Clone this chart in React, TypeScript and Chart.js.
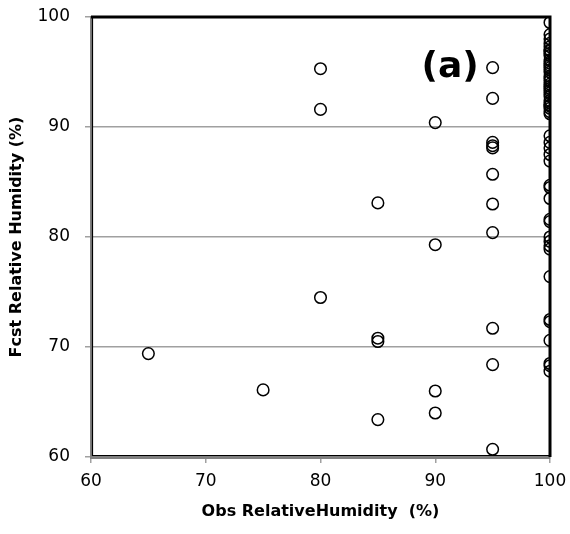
import React, { useEffect, useRef } from "react";
import { Chart, registerables } from "chart.js";

Chart.register(...registerables);

const obsRH: number[] = [
  65, 75, 80, 80, 80, 85, 85, 85, 85, 90, 90, 90, 90,
  95, 95, 95, 95, 95, 95, 95, 95, 95, 95, 95,
  100, 100, 100, 100, 100, 100, 100, 100, 100, 100, 100, 100, 100, 100, 100, 100,
  100, 100, 100, 100, 100, 100, 100, 100, 100, 100, 100, 100, 100, 100,
  100, 100, 100, 100, 100, 100, 100, 100, 100, 100, 100, 100, 100, 100, 100, 100,
  100, 100, 100, 100, 100, 100,
];
const fcstRH: number[] = [
  69.4, 66.1, 95.3, 91.6, 74.5, 83.1, 70.8, 70.5, 63.4, 90.4, 79.3, 66.0, 64.0,
  95.4, 92.6, 88.6, 88.3, 88.1, 85.7, 83.0, 80.4, 71.7, 68.4, 60.7,
  99.5, 98.4, 98.0, 97.6, 97.3, 96.9, 96.5, 96.1, 95.8, 95.4, 95.0, 94.6, 94.2, 93.9, 93.5, 93.1,
  92.8, 92.4, 92.0, 91.7, 91.4, 91.2, 96.7, 95.6, 94.4, 93.3, 92.2, 91.9, 89.2, 88.6,
  88.1, 87.5, 86.9, 84.7, 84.5, 83.5, 81.6, 81.4, 80.0, 79.6, 79.2, 78.9, 76.4, 72.5, 72.3, 70.6,
  68.5, 68.3, 67.8, 97.0, 95.2, 93.7,
];
const xTicks: number[] = [60, 70, 80, 90, 100];
const yTicks: number[] = [60, 70, 80, 90, 100];
const panelLabel = "(a)";
const panelLabelPos = { x: 91.3, y: 95.4 };

const FONT = "'DejaVu Sans', sans-serif";

export default function App() {
  const ref = useRef<HTMLCanvasElement | null>(null);

  useEffect(() => {
    if (!ref.current) return;
    const points = obsRH.map((x, i) => ({ x, y: fcstRH[i] }));

    const framePlugin = {
      id: "frame",
      afterDraw(chart: any) {
        const { ctx, chartArea } = chart;
        const { left, right, top, bottom } = chartArea;
        ctx.save();
        ctx.strokeStyle = "#000";
        ctx.lineWidth = 3;
        ctx.beginPath();
        ctx.moveTo(left, top);
        ctx.lineTo(right, top);
        ctx.lineTo(right, bottom);
        ctx.stroke();
        ctx.lineWidth = 1.2;
        ctx.beginPath();
        ctx.moveTo(left + 1.5, top);
        ctx.lineTo(left + 1.5, bottom - 1.5);
        ctx.lineTo(right, bottom - 1.5);
        ctx.stroke();
        const xs = chart.scales.x.getPixelForValue(panelLabelPos.x);
        const ys = chart.scales.y.getPixelForValue(panelLabelPos.y);
        ctx.fillStyle = "#000";
        ctx.font = `bold 36px ${FONT}`;
        ctx.textAlign = "center";
        ctx.textBaseline = "middle";
        ctx.fillText(panelLabel, xs, ys);
        ctx.restore();
      },
    };

    const chart = new Chart(ref.current, {
      type: "scatter",
      data: {
        datasets: [
          {
            data: points,
            pointStyle: "circle",
            pointRadius: 5.8,
            pointBorderWidth: 1.5,
            pointBorderColor: "#000",
            pointBackgroundColor: "rgba(255,255,255,0)",
            showLine: false,
          },
        ],
      },
      options: {
        animation: false,
        responsive: false,
        maintainAspectRatio: false,
        layout: { padding: { top: 17, right: 20, left: 0, bottom: 0 } },
        plugins: {
          legend: { display: false },
          tooltip: { enabled: false },
        },
        scales: {
          x: {
            type: "linear",
            min: 60,
            max: 100,
            afterBuildTicks: (s: any) => {
              s.ticks = xTicks.map((v) => ({ value: v }));
            },
            afterFit: (s: any) => {
              s.height = 77;
              s.paddingLeft = 0;
              s.paddingRight = 0;
            },
            border: { display: true, color: "#808080", width: 3 },
            grid: {
              drawOnChartArea: false,
              drawTicks: true,
              tickLength: 6,
              color: "#a0a0a0",
              lineWidth: 1.5,
            },
            ticks: {
              padding: 8,
              color: "#000",
              font: { family: FONT, size: 17 },
              maxRotation: 0,
            },
            title: {
              display: true,
              text: "Obs RelativeHumidity  (%)",
              color: "#000",
              font: { family: FONT, size: 16, weight: "bold" },
              padding: { top: 0, bottom: 13 },
            },
          },
          y: {
            type: "linear",
            min: 60,
            max: 100,
            afterBuildTicks: (s: any) => {
              s.ticks = yTicks.map((v) => ({ value: v }));
            },
            afterFit: (s: any) => {
              s.width = 91;
              s.paddingTop = 0;
              s.paddingBottom = 0;
            },
            border: { display: true, color: "#808080", width: 3 },
            grid: {
              drawOnChartArea: true,
              drawTicks: true,
              tickLength: 6,
              color: "#a0a0a0",
              lineWidth: 1.5,
            },
            ticks: {
              padding: 15,
              color: "#000",
              font: { family: FONT, size: 17 },
            },
            title: {
              display: true,
              text: "Fcst Relative Humidity (%)",
              color: "#000",
              font: { family: FONT, size: 16, weight: "bold" },
              padding: { top: 7, bottom: 0 },
            },
          },
        },
      },
      plugins: [framePlugin],
    });
    return () => chart.destroy();
  }, []);

  return (
    <div style={{ position: "fixed", left: 0, top: 0, width: 570, height: 534, background: "#fff" }}>
      <canvas ref={ref} width={570} height={534} style={{ display: "block", width: 570, height: 534 }} />
    </div>
  );
}
